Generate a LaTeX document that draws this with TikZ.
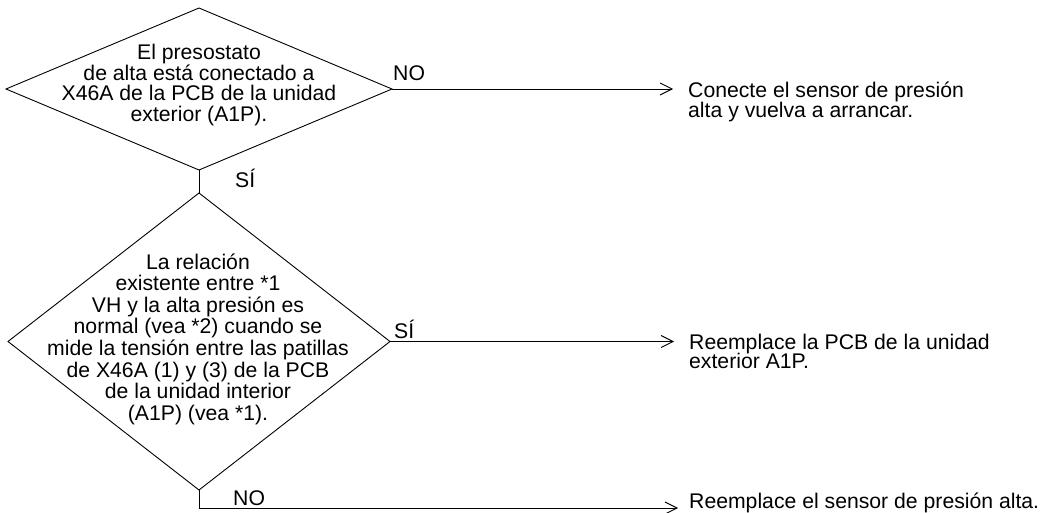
\documentclass[tikz,border=0pt]{standalone}
\usepackage{fontspec}
\setmainfont{Liberation Sans}
\usetikzlibrary{arrows.meta,shapes.geometric}

\begin{document}
\begin{tikzpicture}[x=1pt,y=-1pt,
  every node/.style={font=\fontsize{21.2}{21}\selectfont, text=black},
  decision/.style={draw, diamond, inner sep=0pt, outer sep=0pt, line width=0.9pt},
  qtext/.style={align=center, inner sep=0pt},
  result/.style={align=left, anchor=north west, inner ysep=0pt},
  lbl/.style={anchor=base west, inner sep=0pt},
  link/.style={line width=0.9pt},
  flow/.style={line width=0.9pt, -{Straight Barb[length=12pt,width=12pt,line width=0.9pt]}}]

\useasboundingbox (0,0) rectangle (1041,513);

% decision diamonds
\node[decision, minimum width=386pt, minimum height=162pt] (d1) at (199,89) {};
\node[decision, minimum width=382pt, minimum height=297pt] (d2) at (199,341.5) {};

% questions
\node[qtext, font=\fontsize{21.2}{20.6}\selectfont] (q1) at (199,85)
  {El presostato\\de alta está conectado a\\X46A de la PCB de la unidad\\exterior (A1P).};
\node[qtext, font=\fontsize{21.2}{21.6}\selectfont] (q2) at (198,339)
  {La relación\\existente entre *1\\VH y la alta presión es\\normal (vea *2) cuando se\\mide la tensión entre las patillas\\de X46A (1) y (3) de la PCB\\de la unidad interior\\(A1P) (vea *1).};

% actions
\node[result, inner xsep=15pt, font=\fontsize{21.2}{20}\selectfont] (t1) at (673,82)
  {Conecte el sensor de presión\\alta y vuelva a arrancar.};
\node[result, inner xsep=15pt, font={\fontsize{21.2}{18.5}\selectfont\lineskiplimit=-100pt}] (t2) at (674,334)
  {Reemplace la PCB de la unidad\\exterior A1P.};
\node[result, inner xsep=11pt] (t3) at (678,493)
  {Reemplace el sensor de presión alta.};

% branch labels
\node[lbl] (n1) at (393,81) {NO};
\node[lbl] (s1) at (235,188) {SÍ};
\node[lbl] (s2) at (394,338) {SÍ};
\node[lbl] (n2) at (233,505) {NO};

% connectors
\coordinate (elbow) at (199,508);
\draw[flow] (d1.east) -- (d1.east -| t1.west);
\draw[link] (d1.south) -- (d2.north);
\draw[flow] (d2.east) -- (d2.east -| t2.west);
\draw[flow] (d2.south) -- (elbow) -- (elbow -| t3.west);

\end{tikzpicture}
\end{document}
